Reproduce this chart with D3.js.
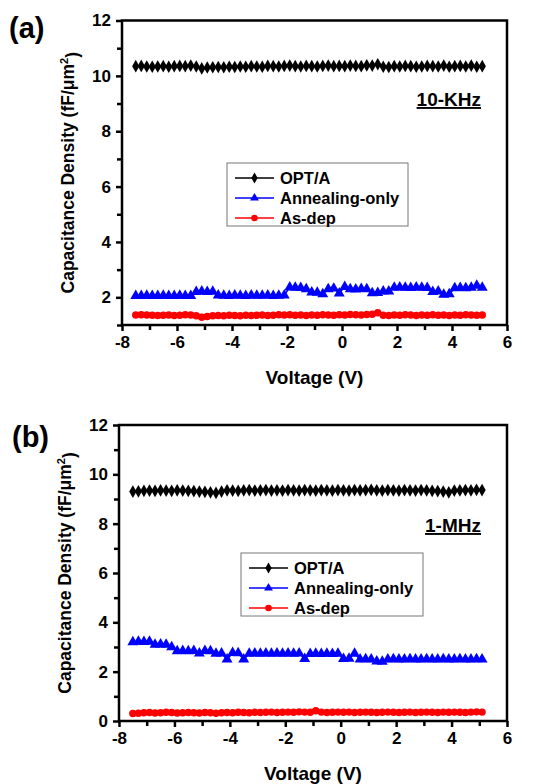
<!DOCTYPE html>
<html>
<head>
<meta charset="utf-8">
<script src="https://cdn.jsdelivr.net/npm/d3@7"></script>
<style>
  body { margin: 0; background: #fff; }
  svg text { font-family: "Liberation Sans", Arial, sans-serif; font-weight: bold; fill: #000; }
</style>
</head>
<body>
<svg id="chart"></svg>
<script>
// measurement grid (V)
var voltage = [-7.5,-7.3,-7.1,-6.9,-6.7,-6.5,-6.3,-6.1,-5.9,-5.7,-5.5,-5.3,-5.1,-4.9,-4.7,
  -4.5,-4.3,-4.1,-3.9,-3.7,-3.5,-3.3,-3.1,-2.9,-2.7,-2.5,-2.3,-2.1,-1.9,-1.7,-1.5,-1.3,
  -1.1,-0.9,-0.7,-0.5,-0.3,-0.1,0.1,0.3,0.5,0.7,0.9,1.1,1.3,1.5,1.7,1.9,2.1,2.3,2.5,2.7,
  2.9,3.1,3.3,3.5,3.7,3.9,4.1,4.3,4.5,4.7,4.9,5.1];

// (a) 10-KHz
var optA_10k = [10.35,10.36,10.34,10.33,10.34,10.35,10.33,10.35,10.36,10.35,10.37,
  10.34,10.27,10.30,10.31,
  10.32,10.31,10.33,10.32,10.34,10.33,10.35,10.34,10.33,10.36,10.35,10.34,10.36,
  10.37,10.35,10.34,10.36,10.35,10.34,10.36,10.37,10.35,10.36,
  10.35,10.37,10.36,10.35,10.38,10.37,10.42,10.33,10.32,10.35,
  10.34,10.36,10.35,10.33,10.34,10.36,10.35,10.34,10.37,10.33,
  10.35,10.36,10.34,10.37,10.33,10.35];
var anneal_10k = [2.05,2.05,2.06,2.05,2.05,2.06,2.05,2.05,2.06,2.05,2.05,
  2.2,2.22,2.2,2.21,
  2.07,2.06,2.05,2.07,2.06,2.05,2.07,2.06,2.06,2.07,2.05,2.06,2.07,
  2.36,2.35,2.34,2.3,2.18,2.17,2.12,2.3,2.32,2.14,
  2.38,2.3,2.29,2.31,2.3,2.15,2.16,2.22,2.22,
  2.35,2.36,2.35,2.34,2.36,2.35,2.34,
  2.2,2.22,2.1,2.12,2.33,2.34,2.33,2.35,2.42,2.35];
var asdep_10k = [1.36,1.37,1.36,1.35,1.34,1.35,1.36,1.34,1.35,1.37,1.36,
  1.33,1.28,1.31,1.33,
  1.34,1.33,1.35,1.34,1.33,1.35,1.34,1.35,1.36,1.34,1.35,1.37,1.36,
  1.37,1.35,1.36,1.34,1.36,1.35,1.37,1.36,1.35,1.37,
  1.36,1.38,1.37,1.36,1.38,1.39,1.44,1.35,1.34,1.36,
  1.35,1.37,1.36,1.34,1.36,1.35,1.37,1.35,1.36,1.34,
  1.36,1.35,1.37,1.36,1.35,1.36];

// (b) 1-MHz
var optA_1m = [9.30,9.31,9.33,9.34,9.33,9.35,9.34,9.33,9.35,9.34,9.33,
  9.32,9.30,9.29,9.27,
  9.25,9.30,9.35,9.34,9.33,9.35,9.36,9.34,9.35,9.36,9.34,9.35,9.34,
  9.36,9.35,9.34,9.36,9.35,9.34,9.36,9.35,9.34,9.36,
  9.35,9.34,9.36,9.35,9.36,9.37,9.35,9.34,9.36,9.35,
  9.34,9.36,9.35,9.34,9.36,9.35,9.33,9.32,9.30,9.27,
  9.34,9.35,9.36,9.35,9.37,9.36];
var anneal_1m = [3.2,3.22,3.21,3.22,3.1,3.11,3.1,3.0,
  2.83,2.84,2.83,2.84,2.74,2.84,2.83,2.73,2.74,2.5,2.76,2.75,2.5,
  2.73,2.74,2.73,2.74,2.73,2.74,2.73,2.74,2.73,2.74,
  2.52,2.72,2.73,2.72,2.73,2.72,2.73,
  2.52,2.53,2.73,2.5,2.51,2.5,2.42,2.41,
  2.5,2.51,2.5,2.5,2.51,2.5,2.5,2.51,2.5,2.5,2.51,2.5,2.5,2.51,2.5,2.5,2.51,2.5];
var asdep_1m = [0.30,0.31,0.33,0.34,0.32,0.33,0.35,0.34,0.32,0.33,0.34,
  0.33,0.32,0.34,0.33,
  0.31,0.33,0.34,0.33,0.35,0.34,0.33,0.35,0.34,0.35,0.36,0.34,0.35,
  0.36,0.35,0.37,0.36,0.35,0.42,0.36,0.34,0.35,0.36,
  0.35,0.36,0.34,0.35,0.36,0.35,0.34,0.35,0.36,0.35,
  0.34,0.35,0.36,0.34,0.35,0.36,0.35,0.34,0.36,0.35,
  0.36,0.35,0.34,0.36,0.37,0.36];

var seriesNames = ["OPT/A", "Annealing-only", "As-dep"];
var seriesColors = ["#000000", "#0000ff", "#ff0000"];
var seriesSymbols = [d3.symbolDiamond, d3.symbolTriangle, d3.symbolCircle];
var symbolSizes = [46, 52, 44];
var xMajor = [-8,-6,-4,-2,0,2,4,6];
var xMinor = [-7,-5,-3,-1,1,3,5];

var svg = d3.select("#chart").attr("width", 541).attr("height", 784);

var drawPanel = function(opt)
{
  var xScale = d3.scaleLinear().domain([-8, 6]).range([opt.left, opt.right]);
  var yScale = d3.scaleLinear().domain(opt.yDomain).range([opt.bottom, opt.top]);

  var g = svg.append("g");

  // minor ticks
  g.append("g")
    .attr("transform", "translate(0," + opt.bottom + ")")
    .call(d3.axisBottom(xScale).tickValues(xMinor).tickSize(5).tickFormat(""));
  g.append("g")
    .attr("transform", "translate(" + opt.left + ",0)")
    .call(d3.axisLeft(yScale).tickValues(opt.yMinor).tickSize(5).tickFormat(""));

  var xAxis = g.append("g")
    .attr("transform", "translate(0," + opt.bottom + ")")
    .call(d3.axisBottom(xScale).tickValues(xMajor).tickSize(6).tickPadding(5)
      .tickFormat(function(d){ return d < 0 ? "-" + Math.abs(d) : d; }));
  var yAxis = g.append("g")
    .attr("transform", "translate(" + opt.left + ",0)")
    .call(d3.axisLeft(yScale).tickValues(opt.yMajor).tickSize(6).tickPadding(5)
      .tickFormat(d3.format("d")));

  g.selectAll(".domain").remove();
  g.selectAll(".tick line").attr("stroke", "#000").attr("stroke-width", 2.5);
  g.selectAll(".tick text").style("font-size", "17px");

  g.append("rect")
    .attr("x", opt.left).attr("y", opt.top)
    .attr("width", opt.right - opt.left).attr("height", opt.bottom - opt.top)
    .attr("fill", "none").attr("stroke", "#000").attr("stroke-width", 2.5);

  var line = d3.line()
    .x(function(d){ return xScale(d[0]); })
    .y(function(d){ return yScale(d[1]); });

  opt.series.forEach(function(vals, k)
  {
    var pts = voltage.map(function(v, i){ return [v, vals[i]]; });
    g.append("path").datum(pts)
      .attr("d", line).attr("fill", "none")
      .attr("stroke", seriesColors[k]).attr("stroke-width", 1.5);
    g.selectAll(null).data(pts).enter().append("path")
      .attr("transform", function(d){ return "translate(" + xScale(d[0]) + "," + yScale(d[1]) + ")"; })
      .attr("d", d3.symbol().type(seriesSymbols[k]).size(symbolSizes[k]))
      .attr("fill", seriesColors[k]);
  });

  // axis titles
  g.append("text")
    .attr("x", (opt.left + opt.right) / 2).attr("y", opt.bottom + 59)
    .attr("text-anchor", "middle").style("font-size", "19px")
    .text("Voltage (V)");

  var yt = g.append("text")
    .attr("transform", "translate(" + (opt.left - 48) + "," + ((opt.top + opt.bottom) / 2) + ") rotate(-90)")
    .attr("text-anchor", "middle").style("font-size", "17.5px");
  yt.append("tspan").text("Capacitance Density (fF/\u03bcm");
  yt.append("tspan").attr("dy", "-0.55em").style("font-size", "11px").text("2");
  yt.append("tspan").attr("dy", "0.55em").text(")");

  g.append("text").attr("x", opt.panelX).attr("y", opt.panelY)
    .style("font-size", "29px").text(opt.panel);

  g.append("text").attr("x", opt.freqX).attr("y", opt.freqY)
    .attr("text-anchor", "end").style("font-size", "19px")
    .style("text-decoration", "underline").text(opt.freq);

  // legend
  var lg = g.append("g").attr("transform", "translate(" + opt.legX + "," + opt.legY + ")");
  lg.append("rect").attr("width", opt.legW).attr("height", 63)
    .attr("fill", "#fff").attr("stroke", "#777").attr("stroke-width", 1);
  seriesNames.forEach(function(name, k)
  {
    var yy = 15 + k * 20;
    lg.append("line").attr("x1", 8).attr("x2", 47).attr("y1", yy).attr("y2", yy)
      .attr("stroke", seriesColors[k]).attr("stroke-width", 1.5);
    lg.append("path").attr("transform", "translate(27.5," + yy + ")")
      .attr("d", d3.symbol().type(seriesSymbols[k]).size(34))
      .attr("fill", seriesColors[k]);
    lg.append("text").attr("x", 53).attr("y", yy + 6)
      .style("font-size", "16.5px").text(name);
  });
}

drawPanel({
  left: 122, right: 507, top: 20.5, bottom: 325,
  yDomain: [1, 12], yMajor: [2,4,6,8,10,12], yMinor: [1,3,5,7,9,11],
  series: [optA_10k, anneal_10k, asdep_10k],
  panel: "(a)", panelX: 9, panelY: 38,
  freq: "10-KHz", freqX: 481, freqY: 106,
  legX: 227, legY: 163, legW: 181
});

drawPanel({
  left: 119, right: 507, top: 425, bottom: 721,
  yDomain: [0, 12], yMajor: [0,2,4,6,8,10,12], yMinor: [1,3,5,7,9,11],
  series: [optA_1m, anneal_1m, asdep_1m],
  panel: "(b)", panelX: 12, panelY: 447,
  freq: "1-MHz", freqX: 481, freqY: 532,
  legX: 241, legY: 553, legW: 182
});
</script>
</body>
</html>
